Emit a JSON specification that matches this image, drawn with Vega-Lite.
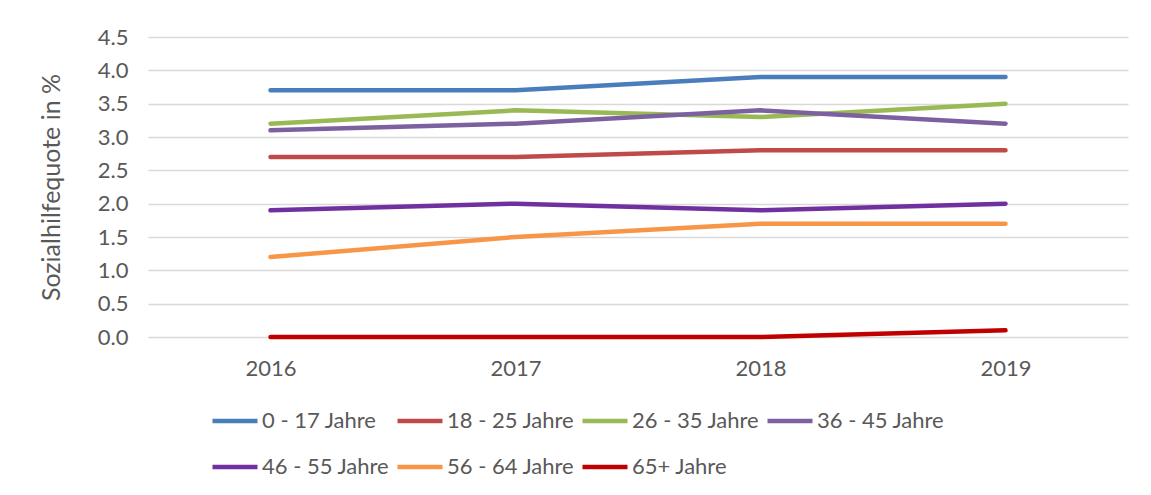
{
  "$schema": "https://vega.github.io/schema/vega-lite/v6.json",
  "autosize": {"type": "none"},
  "padding": {"left": 148, "top": 37, "right": 23, "bottom": 158},
  "width": 980,
  "height": 300,
  "background": "white",
  "config": {
    "view": {"stroke": null},
    "font": "Lato",
    "axis": {"labelFont": "Lato", "titleFont": "Lato", "labelColor": "#595959", "titleColor": "#595959"}
  },
  "data": {
    "values": [
      {"Jahr": "2016", "Gruppe": "0 - 17 Jahre", "Quote": 3.7},
      {"Jahr": "2017", "Gruppe": "0 - 17 Jahre", "Quote": 3.7},
      {"Jahr": "2018", "Gruppe": "0 - 17 Jahre", "Quote": 3.9},
      {"Jahr": "2019", "Gruppe": "0 - 17 Jahre", "Quote": 3.9},
      {"Jahr": "2016", "Gruppe": "18 - 25 Jahre", "Quote": 2.7},
      {"Jahr": "2017", "Gruppe": "18 - 25 Jahre", "Quote": 2.7},
      {"Jahr": "2018", "Gruppe": "18 - 25 Jahre", "Quote": 2.8},
      {"Jahr": "2019", "Gruppe": "18 - 25 Jahre", "Quote": 2.8},
      {"Jahr": "2016", "Gruppe": "26 - 35 Jahre", "Quote": 3.2},
      {"Jahr": "2017", "Gruppe": "26 - 35 Jahre", "Quote": 3.4},
      {"Jahr": "2018", "Gruppe": "26 - 35 Jahre", "Quote": 3.3},
      {"Jahr": "2019", "Gruppe": "26 - 35 Jahre", "Quote": 3.5},
      {"Jahr": "2016", "Gruppe": "36 - 45 Jahre", "Quote": 3.1},
      {"Jahr": "2017", "Gruppe": "36 - 45 Jahre", "Quote": 3.2},
      {"Jahr": "2018", "Gruppe": "36 - 45 Jahre", "Quote": 3.4},
      {"Jahr": "2019", "Gruppe": "36 - 45 Jahre", "Quote": 3.2},
      {"Jahr": "2016", "Gruppe": "46 - 55 Jahre", "Quote": 1.9},
      {"Jahr": "2017", "Gruppe": "46 - 55 Jahre", "Quote": 2.0},
      {"Jahr": "2018", "Gruppe": "46 - 55 Jahre", "Quote": 1.9},
      {"Jahr": "2019", "Gruppe": "46 - 55 Jahre", "Quote": 2.0},
      {"Jahr": "2016", "Gruppe": "56 - 64 Jahre", "Quote": 1.2},
      {"Jahr": "2017", "Gruppe": "56 - 64 Jahre", "Quote": 1.5},
      {"Jahr": "2018", "Gruppe": "56 - 64 Jahre", "Quote": 1.7},
      {"Jahr": "2019", "Gruppe": "56 - 64 Jahre", "Quote": 1.7},
      {"Jahr": "2016", "Gruppe": "65+ Jahre", "Quote": 0.0},
      {"Jahr": "2017", "Gruppe": "65+ Jahre", "Quote": 0.0},
      {"Jahr": "2018", "Gruppe": "65+ Jahre", "Quote": 0.0},
      {"Jahr": "2019", "Gruppe": "65+ Jahre", "Quote": 0.1}
    ]
  },
  "mark": {"type": "line", "strokeWidth": 4.5, "strokeCap": "round", "strokeJoin": "round"},
  "encoding": {
    "x": {
      "field": "Jahr", "type": "ordinal",
      "scale": {"type": "point", "padding": 0.5},
      "axis": {"title": null, "labelAngle": 0, "labelFontSize": 22, "labelPadding": 21, "ticks": false, "domain": false, "grid": false}
    },
    "y": {
      "field": "Quote", "type": "quantitative",
      "scale": {"domain": [0, 4.5]},
      "axis": {
        "title": "Sozialhilfequote in %", "titleFontSize": 25, "titleFontWeight": "normal", "titlePadding": 33,
        "values": [0, 0.5, 1, 1.5, 2, 2.5, 3, 3.5, 4, 4.5], "format": ".1f",
        "labelFontSize": 22, "labelPadding": 20, "ticks": false, "domain": false,
        "grid": true, "gridColor": "#D9D9D9", "gridWidth": 1.3
      }
    },
    "color": {
      "field": "Gruppe", "type": "nominal",
      "sort": ["0 - 17 Jahre", "18 - 25 Jahre", "26 - 35 Jahre", "36 - 45 Jahre", "46 - 55 Jahre", "56 - 64 Jahre", "65+ Jahre"],
      "scale": {
        "domain": ["0 - 17 Jahre", "18 - 25 Jahre", "26 - 35 Jahre", "36 - 45 Jahre", "46 - 55 Jahre", "56 - 64 Jahre", "65+ Jahre"],
        "range": ["#4A7EBB", "#BE4B48", "#98B954", "#7D60A0", "#7030A0", "#F79646", "#C00000"]
      },
      "legend": {
        "title": null, "orient": "none", "legendX": 62, "legendY": 359,
        "direction": "horizontal", "columns": 4, "gridAlign": "all",
        "symbolType": "stroke", "symbolSize": 2025, "symbolStrokeWidth": 4.5,
        "labelFont": "Lato", "labelFontSize": 22, "labelColor": "#595959", "labelOffset": 2,
        "columnPadding": -2, "rowPadding": 10, "labelLimit": 300
      }
    }
  }
}
